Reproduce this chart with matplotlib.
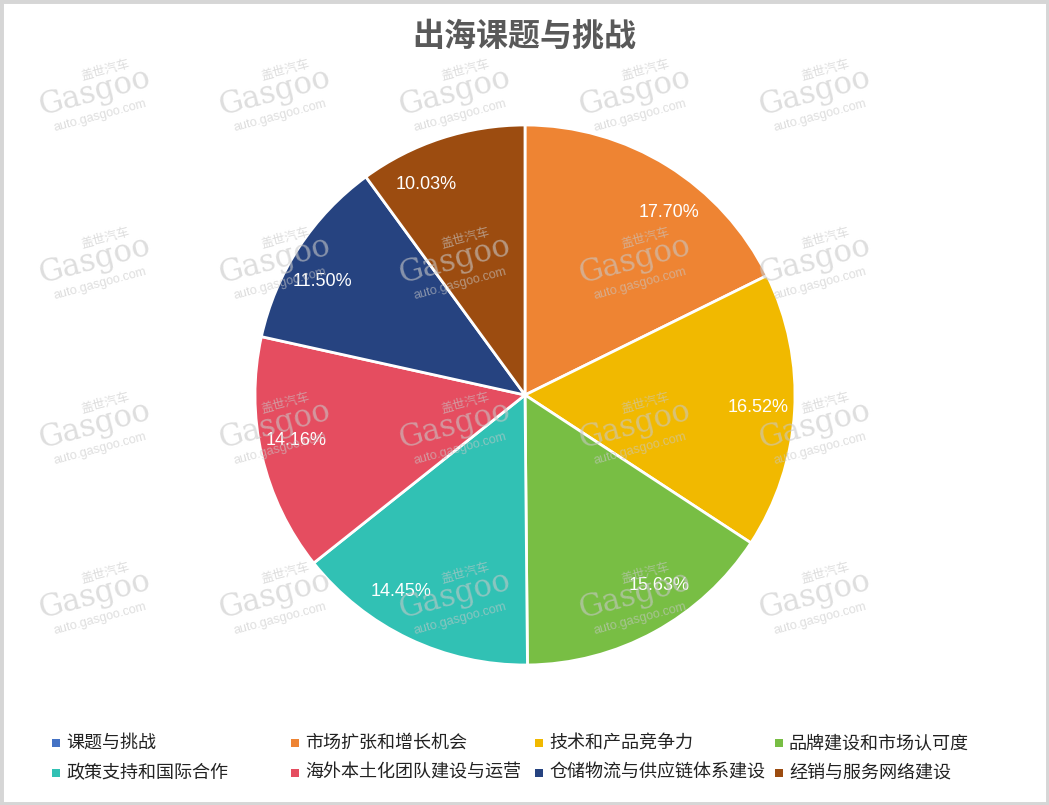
import numpy as np
import matplotlib.pyplot as plt
from matplotlib.patches import Rectangle

plt.rcParams['font.family'] = ['Noto Sans CJK SC', 'DejaVu Sans']

# data
title = '出海课题与挑战'
categories = ['课题与挑战', '市场扩张和增长机会', '技术和产品竞争力', '品牌建设和市场认可度',
              '政策支持和国际合作', '海外本土化团队建设与运营', '仓储物流与供应链体系建设', '经销与服务网络建设']
shares = [0.0, 17.70, 16.52, 15.63, 14.45, 14.16, 11.50, 10.03]
colors = ['#4472C4', '#EE8433', '#F1B900', '#78BE44', '#31C1B4', '#E54D60', '#264380', '#9C4C10']

W, H = 1049, 805
fig = plt.figure(figsize=(W / 100, H / 100), dpi=100)

# outer frame
fig.patches.append(Rectangle((0, 0), 1, 1, transform=fig.transFigure, fill=False,
                             edgecolor='#D6D6D6', linewidth=5, zorder=0))

fig.text(0.5, 1 - 37 / H, title, ha='center', va='center', fontsize=23,
         fontweight='bold', color='#595959')

# pie axes: center (525, 395) px, radius 270 px
cx, cy, r = 525, 395, 270
ax = fig.add_axes([(cx - r) / W, (H - cy - r) / H, 2 * r / W, 2 * r / H])
vals = [v for v in shares if v > 0]
cols = [c for v, c in zip(shares, colors) if v > 0]
wedges, texts, autotexts = ax.pie(vals, colors=cols, startangle=90, counterclock=False,
                                  autopct=lambda p: '%.2f%%' % p, pctdistance=0.82,
                                  wedgeprops=dict(edgecolor='white', linewidth=2),
                                  textprops=dict(color='white', fontsize=13))
for w, t in zip(wedges, autotexts):
    t.set_family(['Liberation Sans', 'DejaVu Sans'])
    th = np.deg2rad((w.theta1 + w.theta2) / 2)
    d = 0.85 - 0.1 * abs(np.cos(th))
    t.set_position((d * np.cos(th), d * np.sin(th)))
    t.set_ha('left' if np.cos(th) > 0 else 'right')
ax.set_xlim(-1.0, 1.0)
ax.set_ylim(-1.0, 1.0)
ax.axis('off')

# watermark
for wx in [95, 275, 455, 635, 815]:
    for wy in [92, 260, 425, 595]:
        fig.text((wx + 10) / W, 1 - (wy - 22) / H, '盖世汽车', ha='center', va='center', fontsize=9,
                 rotation=15, color='#C8C8C8', alpha=0.6, zorder=10)
        fig.text(wx / W, 1 - wy / H, 'Gasgoo', ha='center', va='center', fontsize=22,
                 rotation=15, color='#C8C8C8', alpha=0.6, family='DejaVu Serif', zorder=10)
        fig.text((wx + 5) / W, 1 - (wy + 24) / H, 'auto.gasgoo.com', ha='center', va='center',
                 fontsize=9, rotation=15, color='#C8C8C8', alpha=0.6,
                 family=['Liberation Sans', 'DejaVu Sans'], zorder=10)

# legend, 4 columns x 2 rows
col_x = [52, 291, 535, 775]
row_y = [743, 773]
for i, (name, c) in enumerate(zip(categories, colors)):
    x = col_x[i % 4]
    y = row_y[i // 4]
    fig.patches.append(Rectangle((x / W, 1 - (y + 4) / H), 8 / W, 8 / H,
                                 transform=fig.transFigure, facecolor=c, edgecolor='none'))
    fig.text((x + 14) / W, 1 - y / H, name, ha='left', va='center', fontsize=13,
             color='#222222')

fig.savefig('out.png', dpi=100, facecolor='white')
